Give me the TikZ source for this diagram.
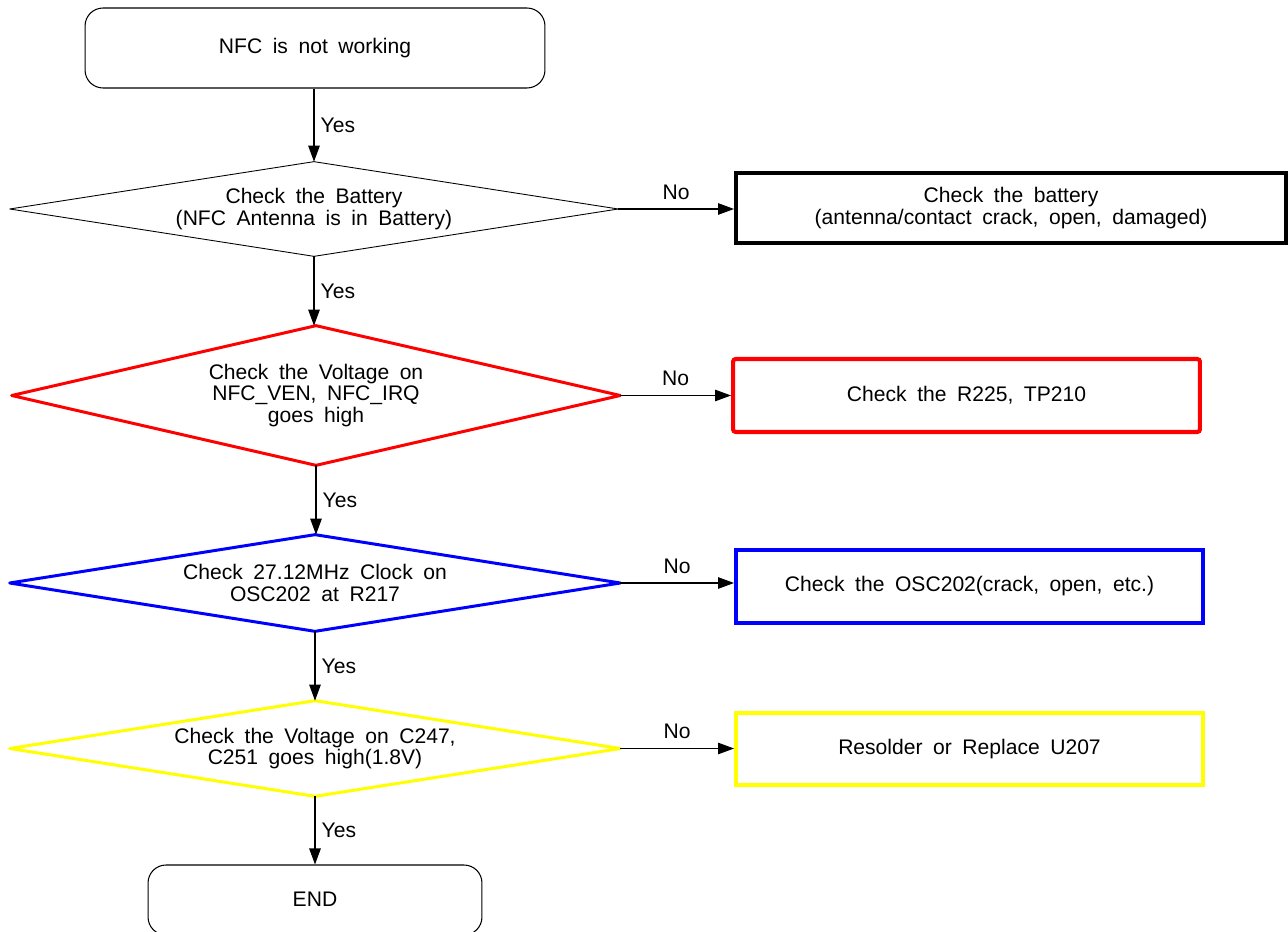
\documentclass[tikz,border=0pt]{standalone}
\usepackage{fontspec}
\setmainfont{Liberation Sans}
\usetikzlibrary{arrows.meta}
\definecolor{cred}{RGB}{255,0,0}
\definecolor{cblue}{RGB}{0,0,255}
\definecolor{cyel}{RGB}{255,255,0}
\newcommand{\myfnt}{\fontsize{12}{12.1}\selectfont\spaceskip=0.5em plus 0.1em minus 0.05em\relax}
\begin{document}
\begin{tikzpicture}[x=0.02cm,y=-0.02cm,
  every node/.style={inner sep=0pt},
  txt/.style={font=\myfnt, align=center},
  roundbox/.style={txt, draw=black, line width=0.6pt, rounded corners=0.36cm},
  dbox/.style={txt, draw=none},
  dline/.style={line width=1.7pt, line join=round},
  outbox/.style={txt, draw, line width=2.3pt},
  arr/.style={-{Triangle[length=0.32cm,width=0.23cm]}, line width=0.6pt},
  lbl/.style={font=\fontsize{12}{12}\selectfont}
]
\useasboundingbox (0,0) rectangle (1288,932);
\clip (0,0) rectangle (1288,932);
% start
\node[roundbox, minimum width=9.2cm, minimum height=1.6cm] (start) at (315,48) {NFC is not working};
% diamonds (bounding nodes)
\node[dbox, minimum width=12.16cm, minimum height=1.88cm] (d1) at (314,209) {Check the Battery\\(NFC Antenna is in Battery)};
\draw[line width=0.5pt, line join=round] (d1.north) -- (d1.east) -- (d1.south) -- (d1.west) -- cycle;
\node[dbox, minimum width=12.16cm, minimum height=2.78cm] (d2) at (316,395.5) {Check the Voltage on\\NFC\_VEN, NFC\_IRQ\\goes high};
\draw[cred, dline] (d2.north) -- (d2.east) -- (d2.south) -- (d2.west) -- cycle;
\node[dbox, minimum width=12.2cm, minimum height=1.92cm] (d3) at (315,583) {Check 27.12MHz Clock on\\OSC202 at R217};
\draw[cblue, dline] (d3.north) -- (d3.east) -- (d3.south) -- (d3.west) -- cycle;
\node[dbox, minimum width=12.2cm, minimum height=1.9cm] (d4) at (315,748.5) {Check the Voltage on C247,\\C251 goes high(1.8V)};
\draw[cyel, dline] (d4.north) -- (d4.east) -- (d4.south) -- (d4.west) -- cycle;
% outcome boxes
\node[outbox, draw=black, minimum width=11.0cm, minimum height=1.4cm] (b1) at (1011,208) {Check the battery\\(antenna/contact crack, open, damaged)};
\node[outbox, draw=cred, rounded corners=1.5pt, minimum width=9.34cm, minimum height=1.46cm] (b2) at (966.5,395.5) {Check the R225, TP210};
\node[outbox, draw=cblue, minimum width=9.34cm, minimum height=1.46cm] (b3) at (969.5,586.5) {Check the OSC202(crack, open, etc.)};
\node[outbox, draw=cyel, minimum width=9.34cm, minimum height=1.44cm] (b4) at (969.5,749) {Resolder or Replace U207};
% end
\node[roundbox, minimum width=6.68cm, minimum height=1.4cm] (end) at (315,900) {\raisebox{1.2pt}{END}};
% vertical arrows
\draw[arr] (start.south -| d1.north) -- node[lbl, right=3.5pt] {Yes} (d1.north);
\draw[arr] (d1.south) -- node[lbl, right=3.5pt] {Yes} (d2.north -| d1.south);
\draw[arr] (d2.south) -- node[lbl, right=3.5pt] {Yes} (d3.north -| d2.south);
\draw[arr] (d3.south) -- node[lbl, right=3.5pt] {Yes} (d4.north);
\draw[arr] (d4.south) -- node[lbl, right=3.5pt] {Yes} (end.north);
% horizontal arrows
\draw[arr] (d1.east) -- node[lbl, above=5pt] {No} (d1.east -| b1.west);
\draw[arr] (d2.east) -- node[lbl, above=5pt] {No} (d2.east -| b2.west);
\draw[arr] (d3.east) -- node[lbl, above=5pt] {No} (d3.east -| b3.west);
\draw[arr] (d4.east) -- node[lbl, above=5pt] {No} (d4.east -| b4.west);
\end{tikzpicture}
\end{document}
